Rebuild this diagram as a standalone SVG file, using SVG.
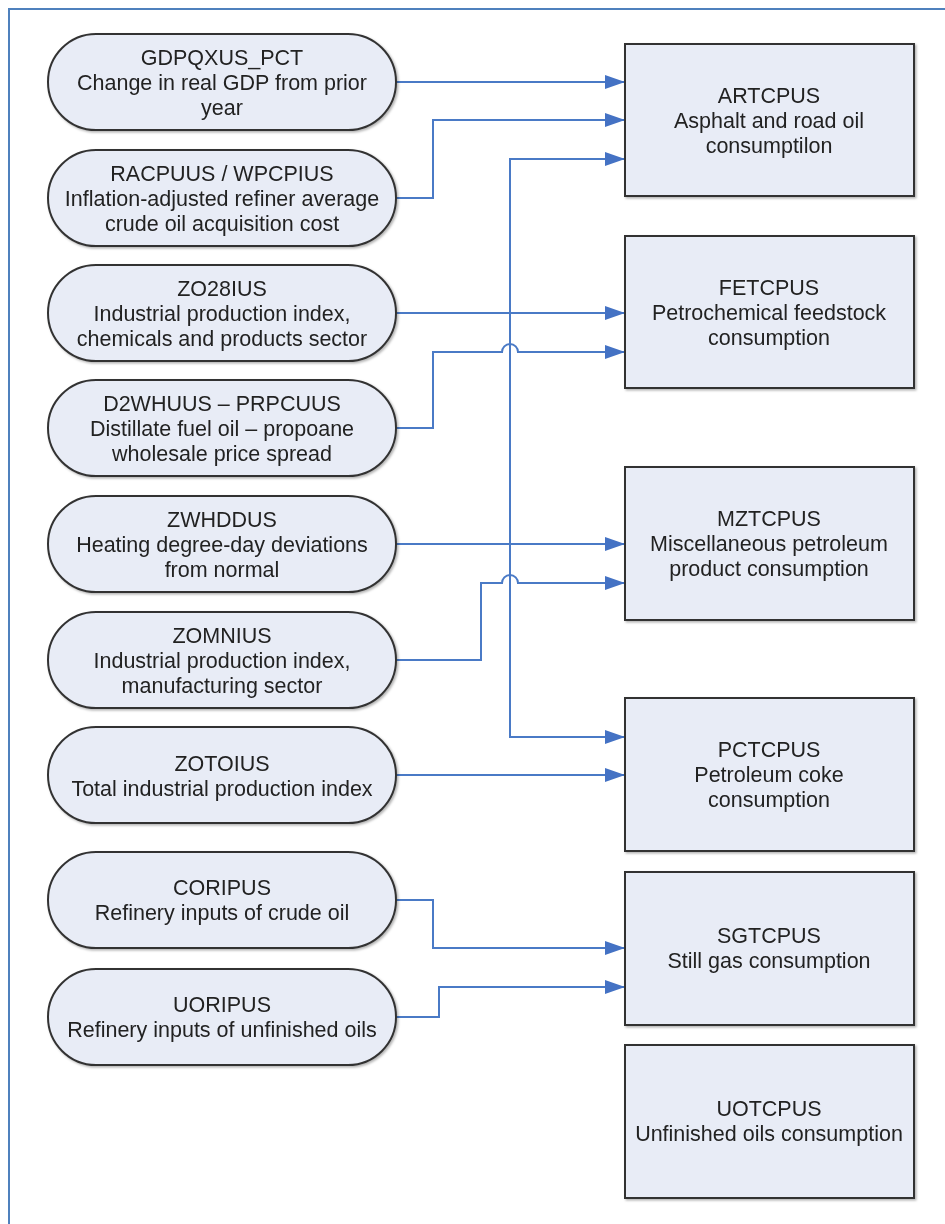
<svg xmlns="http://www.w3.org/2000/svg" width="945" height="1224" viewBox="0 0 945 1224">
<style>
.node{fill:#E8ECF6;stroke:#333;stroke-width:2}
.t{font-family:"Liberation Sans",Arial,sans-serif;font-size:21.5px;fill:#222;text-anchor:middle}
.c{fill:none;stroke:#4A7AC6;stroke-width:2}
</style>
<defs>
<marker id="ah" viewBox="0 0 20 14" markerUnits="userSpaceOnUse" markerWidth="20" markerHeight="14" refX="20" refY="7" orient="auto-start-reverse">
<path d="M0,0 L20,7 L0,14 z" fill="#4472C4"/>
</marker>
<filter id="sh" x="-5%" y="-5%" width="110%" height="115%">
<feDropShadow dx="1.5" dy="1.5" stdDeviation="1" flood-color="#000" flood-opacity="0.3"/>
</filter>
</defs>
<rect width="945" height="1224" fill="#fff"/>
<path d="M9,1224 V9 H945" fill="none" stroke="#4F81BD" stroke-width="2"/>

<g id="connectors">
<path class="c" d="M396,82 H625" marker-end="url(#ah)"/>
<path class="c" d="M396,198 H433 V120 H625" marker-end="url(#ah)"/>
<path class="c" d="M625,159 H510 V737 H625" marker-start="url(#ah)" marker-end="url(#ah)"/>
<path class="c" d="M396,313 H625" marker-end="url(#ah)"/>
<path class="c" d="M396,428 H433 V352 H502 A8,8 0 0 1 518,352 H625" marker-end="url(#ah)"/>
<path class="c" d="M396,544 H625" marker-end="url(#ah)"/>
<path class="c" d="M396,660 H481 V583 H502 A8,8 0 0 1 518,583 H625" marker-end="url(#ah)"/>
<path class="c" d="M396,775 H625" marker-end="url(#ah)"/>
<path class="c" d="M396,900 H433 V948 H625" marker-end="url(#ah)"/>
<path class="c" d="M396,1017 H439 V987 H625" marker-end="url(#ah)"/>
</g>

<g id="n-gdpqxus" filter="url(#sh)">
<rect class="node" x="48" y="34" width="348" height="96" rx="48"/>
<text class="t" x="222" y="65">GDPQXUS_PCT</text>
<text class="t" x="222" y="90">Change in real GDP from prior</text>
<text class="t" x="222" y="115">year</text>
</g>
<g id="n-racpuus" filter="url(#sh)">
<rect class="node" x="48" y="150" width="348" height="96" rx="48"/>
<text class="t" x="222" y="181">RACPUUS / WPCPIUS</text>
<text class="t" x="222" y="206">Inflation-adjusted refiner average</text>
<text class="t" x="222" y="231">crude oil acquisition cost</text>
</g>
<g id="n-zo28ius" filter="url(#sh)">
<rect class="node" x="48" y="265" width="348" height="96" rx="48"/>
<text class="t" x="222" y="296">ZO28IUS</text>
<text class="t" x="222" y="321">Industrial production index,</text>
<text class="t" x="222" y="346">chemicals and products sector</text>
</g>
<g id="n-d2whuus" filter="url(#sh)">
<rect class="node" x="48" y="380" width="348" height="96" rx="48"/>
<text class="t" x="222" y="411">D2WHUUS – PRPCUUS</text>
<text class="t" x="222" y="436">Distillate fuel oil – propoane</text>
<text class="t" x="222" y="461">wholesale price spread</text>
</g>
<g id="n-zwhddus" filter="url(#sh)">
<rect class="node" x="48" y="496" width="348" height="96" rx="48"/>
<text class="t" x="222" y="527">ZWHDDUS</text>
<text class="t" x="222" y="552">Heating degree-day deviations</text>
<text class="t" x="222" y="577">from normal</text>
</g>
<g id="n-zomnius" filter="url(#sh)">
<rect class="node" x="48" y="612" width="348" height="96" rx="48"/>
<text class="t" x="222" y="643">ZOMNIUS</text>
<text class="t" x="222" y="668">Industrial production index,</text>
<text class="t" x="222" y="693">manufacturing sector</text>
</g>
<g id="n-zotoius" filter="url(#sh)">
<rect class="node" x="48" y="727" width="348" height="96" rx="48"/>
<text class="t" x="222" y="771">ZOTOIUS</text>
<text class="t" x="222" y="796">Total industrial production index</text>
</g>
<g id="n-coripus" filter="url(#sh)">
<rect class="node" x="48" y="852" width="348" height="96" rx="48"/>
<text class="t" x="222" y="895">CORIPUS</text>
<text class="t" x="222" y="920">Refinery inputs of crude oil</text>
</g>
<g id="n-uoripus" filter="url(#sh)">
<rect class="node" x="48" y="969" width="348" height="96" rx="48"/>
<text class="t" x="222" y="1012">UORIPUS</text>
<text class="t" x="222" y="1037">Refinery inputs of unfinished oils</text>
</g>

<g id="n-artcpus" filter="url(#sh)">
<rect class="node" x="625" y="44" width="289" height="152"/>
<text class="t" x="769" y="103">ARTCPUS</text>
<text class="t" x="769" y="128">Asphalt and road oil</text>
<text class="t" x="769" y="153">consumptilon</text>
</g>
<g id="n-fetcpus" filter="url(#sh)">
<rect class="node" x="625" y="236" width="289" height="152"/>
<text class="t" x="769" y="295">FETCPUS</text>
<text class="t" x="769" y="320">Petrochemical feedstock</text>
<text class="t" x="769" y="345">consumption</text>
</g>
<g id="n-mztcpus" filter="url(#sh)">
<rect class="node" x="625" y="467" width="289" height="153"/>
<text class="t" x="769" y="526">MZTCPUS</text>
<text class="t" x="769" y="551">Miscellaneous petroleum</text>
<text class="t" x="769" y="576">product consumption</text>
</g>
<g id="n-pctcpus" filter="url(#sh)">
<rect class="node" x="625" y="698" width="289" height="153"/>
<text class="t" x="769" y="757">PCTCPUS</text>
<text class="t" x="769" y="782">Petroleum coke</text>
<text class="t" x="769" y="807">consumption</text>
</g>
<g id="n-sgtcpus" filter="url(#sh)">
<rect class="node" x="625" y="872" width="289" height="153"/>
<text class="t" x="769" y="943">SGTCPUS</text>
<text class="t" x="769" y="968">Still gas consumption</text>
</g>
<g id="n-uotcpus" filter="url(#sh)">
<rect class="node" x="625" y="1045" width="289" height="153"/>
<text class="t" x="769" y="1116">UOTCPUS</text>
<text class="t" x="769" y="1141">Unfinished oils consumption</text>
</g>
</svg>
